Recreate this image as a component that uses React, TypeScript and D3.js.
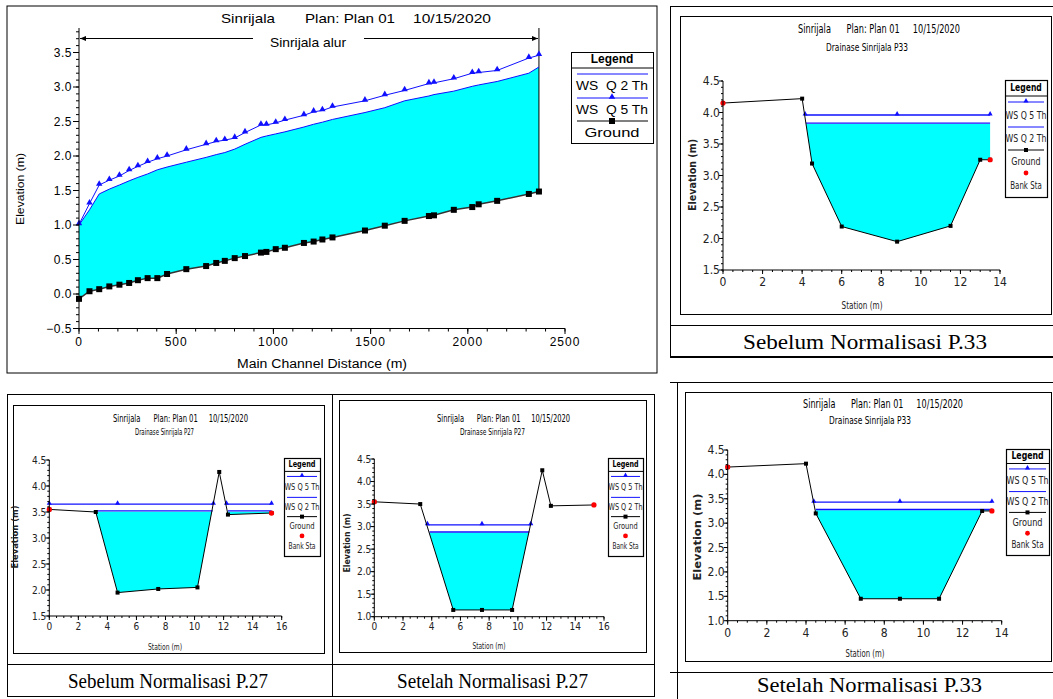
import React, { useEffect, useRef } from "react";
import * as d3 from "d3";

// long profile "Sinrijala alur"
const profileStations = [0, 54, 104, 156, 208, 258, 303, 353, 403, 453, 552, 654, 706, 750, 801, 854, 936, 964, 1012, 1059, 1157, 1207, 1252, 1304, 1471, 1573, 1675, 1800, 1826, 1928, 2023, 2056, 2151, 2314, 2366];
const profileGround = [-0.07, 0.04, 0.07, 0.11, 0.135, 0.16, 0.2, 0.23, 0.23, 0.29, 0.36, 0.405, 0.45, 0.48, 0.52, 0.55, 0.6, 0.61, 0.65, 0.67, 0.74, 0.76, 0.79, 0.82, 0.92, 0.99, 1.06, 1.13, 1.14, 1.22, 1.26, 1.3, 1.35, 1.45, 1.485];
const profileWsQ5 = [1.01, 1.31, 1.58, 1.65, 1.71, 1.79, 1.85, 1.91, 1.96, 2.0, 2.09, 2.17, 2.21, 2.23, 2.26, 2.34, 2.45, 2.45, 2.48, 2.52, 2.59, 2.64, 2.66, 2.71, 2.8, 2.88, 2.95, 3.05, 3.06, 3.12, 3.2, 3.21, 3.24, 3.42, 3.46];
const profileWsQ2 = [1.0, 1.22, 1.45, 1.52, 1.58, 1.64, 1.69, 1.74, 1.8, 1.84, 1.91, 1.98, 2.02, 2.05, 2.1, 2.17, 2.27, 2.29, 2.32, 2.35, 2.42, 2.46, 2.49, 2.53, 2.63, 2.7, 2.8, 2.87, 2.89, 2.94, 3.01, 3.03, 3.08, 3.2, 3.29];
const profileYTicks = [-0.5, 0, 0.5, 1.0, 1.5, 2.0, 2.5, 3.0, 3.5];
const profileXTicks = [0, 500, 1000, 1500, 2000, 2500];
const profileLegend = ["WS  Q 2 Th", "WS  Q 5 Th", "Ground"];

// cross sections
const sectionLegend = ["WS Q 5 Th", "WS Q 2 Th", "Ground", "Bank Sta"];

const p33BeforeStation = [0, 4.0, 4.5, 6.0, 8.8, 11.5, 13.0, 13.5];
const p33BeforeGround = [4.15, 4.22, 3.19, 2.19, 1.95, 2.2, 3.25, 3.25];
const p33BeforeBanks = [0, 7];
const p33BeforeQ5 = 3.96;
const p33BeforeQ5Marks = [[4.15, 8.8, 13.5]];
const p33BeforeQ2 = 3.83;
const p33BeforeQ2Segs = [[4.19, 13.5]];

const p27BeforeStation = [0, 3.2, 4.7, 7.5, 10.2, 11.7, 12.3, 15.3];
const p27BeforeGround = [3.55, 3.5, 1.95, 2.02, 2.05, 4.27, 3.45, 3.48];
const p27BeforeBanks = [0, 7];
const p27BeforeQ5 = 3.65;
const p27BeforeQ5Marks = [[0, 4.7, 11.3], [12.2, 15.3]];
const p27BeforeQ2 = 3.52;
const p27BeforeQ2Segs = [[3.2, 11.25], [12.3, 15.3]];

const p27AfterStation = [0, 3.2, 5.5, 7.5, 9.6, 11.7, 12.3, 15.3];
const p27AfterGround = [3.55, 3.5, 1.15, 1.15, 1.15, 4.25, 3.46, 3.48];
const p27AfterBanks = [0, 7];
const p27AfterQ5 = 3.04;
const p27AfterQ5Marks = [[3.7, 7.5, 10.9]];
const p27AfterQ2 = 2.88;
const p27AfterQ2Segs = [[3.85, 10.8]];

const p33AfterStation = [0, 4.0, 4.5, 6.8, 8.8, 10.8, 13.0, 13.5];
const p33AfterGround = [4.15, 4.22, 3.2, 1.45, 1.45, 1.45, 3.25, 3.25];
const p33AfterBanks = [0, 7];
const p33AfterQ5 = 3.43;
const p33AfterQ5Marks = [[4.4, 8.8, 13.5]];
const p33AfterQ2 = 3.28;
const p33AfterQ2Segs = [[4.5, 13.5]];

const SANS = "'Liberation Sans', Arial, sans-serif";
const NARROW = "'Liberation Sans Narrow', 'Arial Narrow', 'DejaVu Sans Condensed', sans-serif";
const SERIF = "'Liberation Serif', 'Times New Roman', serif";
const BLUE = "#1010ff";
const CYAN = "#00ffff";

const range = (a: number, b: number, step: number) => {
  const out: number[] = [];
  for (let v = a; v <= b + 1e-9; v += step) out.push(Math.round(v * 100) / 100);
  return out;
};

const drawProfile = (svg: any) => {
  const g = svg.append("g");
  const x = d3.scaleLinear().domain([0, 2500]).range([79, 565]);
  const y = d3.scaleLinear().domain([-0.5, 3.5]).range([328.5, 52.5]);
  const idx = profileStations.map((d, i) => i);

  g.append("rect").attr("x", 7).attr("y", 6).attr("width", 650).attr("height", 367)
    .attr("fill", "none").attr("stroke", "#000");

  g.append("path").datum(idx)
    .attr("d", d3.area<number>().x((i) => x(profileStations[i])).y0((i) => y(profileWsQ2[i])).y1((i) => y(profileGround[i])))
    .attr("fill", CYAN);

  const last = profileStations.length - 1;
  g.append("line").attr("x1", x(profileStations[last])).attr("x2", x(profileStations[last]))
    .attr("y1", 28).attr("y2", y(profileGround[last])).attr("stroke", "#000");

  g.append("path").datum(idx)
    .attr("d", d3.line<number>().x((i) => x(profileStations[i])).y((i) => y(profileWsQ2[i])))
    .attr("fill", "none").attr("stroke", BLUE).attr("stroke-width", 1);
  g.append("path").datum(idx)
    .attr("d", d3.line<number>().x((i) => x(profileStations[i])).y((i) => y(profileWsQ5[i])))
    .attr("fill", "none").attr("stroke", BLUE).attr("stroke-width", 1);
  g.append("path").datum(idx)
    .attr("d", d3.line<number>().x((i) => x(profileStations[i])).y((i) => y(profileGround[i])))
    .attr("fill", "none").attr("stroke", "#333").attr("stroke-width", 1.5);

  const tri = d3.symbol().type(d3.symbolTriangle).size(18);
  g.selectAll(".q5m").data(idx).enter().append("path")
    .attr("d", tri).attr("transform", (i: number) => `translate(${x(profileStations[i])},${y(profileWsQ5[i]) - 1})`)
    .attr("fill", BLUE);
  g.selectAll(".gm").data(idx).enter().append("rect")
    .attr("x", (i: number) => x(profileStations[i]) - 3).attr("y", (i: number) => y(profileGround[i]) - 3)
    .attr("width", 6).attr("height", 6).attr("fill", "#000");

  // axes
  g.append("line").attr("x1", 79).attr("x2", 79).attr("y1", 28).attr("y2", 328.5).attr("stroke", "#000");
  g.append("line").attr("x1", 79).attr("x2", 565).attr("y1", 328.5).attr("y2", 328.5).attr("stroke", "#000");
  g.selectAll(".ymin").data(range(-0.5, 3.8, 0.1)).enter().append("line")
    .attr("x1", 76).attr("x2", 79).attr("y1", (d: number) => y(d)).attr("y2", (d: number) => y(d)).attr("stroke", "#000");
  g.selectAll(".xmin").data(range(0, 2500, 100)).enter().append("line")
    .attr("x1", (d: number) => x(d)).attr("x2", (d: number) => x(d)).attr("y1", 328.5).attr("y2", 331.5).attr("stroke", "#000");
  g.selectAll(".ymaj").data(profileYTicks).enter().append("line")
    .attr("x1", 73).attr("x2", 79).attr("y1", (d: number) => y(d)).attr("y2", (d: number) => y(d)).attr("stroke", "#000");
  g.selectAll(".xmaj").data(profileXTicks).enter().append("line")
    .attr("x1", (d: number) => x(d)).attr("x2", (d: number) => x(d)).attr("y1", 328.5).attr("y2", 334).attr("stroke", "#000");
  g.selectAll(".ylab").data(profileYTicks).enter().append("text")
    .attr("x", 72).attr("y", (d: number) => y(d)).attr("dominant-baseline", "central")
    .attr("text-anchor", "end").attr("font-family", SANS).attr("font-size", 12).attr("letter-spacing", 0.5)
    .text((d: number) => d3.format(".1f")(d));
  g.selectAll(".xlab").data(profileXTicks).enter().append("text")
    .attr("x", (d: number) => x(d)).attr("y", 342).attr("dominant-baseline", "central")
    .attr("text-anchor", "middle").attr("font-family", SANS).attr("font-size", 12).attr("letter-spacing", 1)
    .text((d: number) => String(d));

  const txt = (t: string, xx: number, yy: number, size: number, w?: number) => {
    const el = g.append("text").attr("x", xx).attr("y", yy).attr("dominant-baseline", "central")
      .attr("font-family", SANS).attr("font-size", size).style("white-space", "pre").text(t);
    if (w) el.attr("textLength", w).attr("lengthAdjust", "spacingAndGlyphs");
    return el;
  };
  txt("Sinrijala", 221, 18, 13, 54);
  txt("Plan: Plan 01", 305, 18, 13, 90);
  txt("10/15/2020", 413, 18, 13, 78);
  txt("Sinrijala alur", 270, 42, 13, 76);
  txt("Main Channel Distance (m)", 237, 364, 12, 170);
  g.append("text").attr("transform", "translate(20,189) rotate(-90)").attr("text-anchor", "middle")
    .attr("dominant-baseline", "central").attr("font-family", SANS).attr("font-size", 11)
    .attr("textLength", 72).attr("lengthAdjust", "spacingAndGlyphs").text("Elevation (m)");

  // reach arrow
  g.append("line").attr("x1", 80).attr("x2", 253).attr("y1", 38.5).attr("y2", 38.5).attr("stroke", "#000");
  g.append("line").attr("x1", 364).attr("x2", 538).attr("y1", 38.5).attr("y2", 38.5).attr("stroke", "#000");
  g.append("path").attr("d", "M80,38.5 L86,36 L86,41 Z").attr("fill", "#000");
  g.append("path").attr("d", "M538,38.5 L532,36 L532,41 Z").attr("fill", "#000");

  // legend
  g.append("rect").attr("x", 571.5).attr("y", 52.5).attr("width", 82).attr("height", 91)
    .attr("fill", "#fff").attr("stroke", "#000");
  g.append("line").attr("x1", 571.5).attr("x2", 653.5).attr("y1", 68).attr("y2", 68).attr("stroke", "#000");
  g.append("text").attr("x", 612).attr("y", 59).attr("text-anchor", "middle").attr("dominant-baseline", "central")
    .attr("font-family", SANS).attr("font-size", 12).attr("font-weight", "bold").text("Legend");
  const rows = [74, 98, 121];
  const colors = [BLUE, BLUE, "#000"];
  const widths = [72, 72, 55];
  rows.forEach((ry, k) => {
    g.append("line").attr("x1", 577).attr("x2", 648).attr("y1", ry).attr("y2", ry).attr("stroke", colors[k]);
    g.append("text").attr("x", 612).attr("y", ry + 12).attr("text-anchor", "middle").attr("dominant-baseline", "central")
      .attr("font-family", SANS).attr("font-size", 12).style("white-space", "pre")
      .attr("textLength", widths[k]).attr("lengthAdjust", "spacingAndGlyphs").text(profileLegend[k]);
  });
  g.append("path").attr("d", tri).attr("transform", "translate(612,97)").attr("fill", BLUE);
  g.append("rect").attr("x", 609).attr("y", 118).attr("width", 6).attr("height", 6).attr("fill", "#000");
};

type Section = {
  id: string;
  station: number[];
  ground: number[];
  banks: number[];
  q5: number;
  q5Marks: number[][];
  q2: number;
  q2Segs: number[][];
  xDomain: number[];
  yDomain: number[];
  xRange: number[];
  yRange: number[];
  box: number[];
  legend: number[];
  title: number[];
  subtitle: number[];
  subText: string;
  yLabel: number[];
  xLabel: number[];
  font: number;
  tick: number;
  caption: string;
  captionPos: number[];
};

const sectionTitleText = "Sinrijala      Plan: Plan 01     10/15/2020";

const drawSection = (svg: any, s: Section) => {
  const g = svg.append("g");
  const x = d3.scaleLinear().domain(s.xDomain).range(s.xRange);
  const y = d3.scaleLinear().domain(s.yDomain).range(s.yRange);
  const idx = s.station.map((d, i) => i);

  g.append("rect").attr("x", s.box[0] + 0.5).attr("y", s.box[1] + 0.5)
    .attr("width", s.box[2] - s.box[0]).attr("height", s.box[3] - s.box[1])
    .attr("fill", "none").attr("stroke", "#000");

  // water: between ground and WS Q 2 level, only where the ground lies below it
  const clipId = "clip-" + s.id;
  g.append("clipPath").attr("id", clipId).append("rect")
    .attr("x", x(s.xDomain[0])).attr("y", y(s.q2) + 0.8)
    .attr("width", x(s.xDomain[1]) - x(s.xDomain[0])).attr("height", y(s.yDomain[0]) - y(s.q2));
  g.append("path").datum(idx)
    .attr("d", d3.area<number>().x((i) => x(s.station[i])).y0(y(s.q2) - 2).y1((i) => y(s.ground[i])))
    .attr("fill", CYAN).attr("clip-path", `url(#${clipId})`);

  s.q2Segs.forEach((seg) => {
    g.append("line").attr("x1", x(seg[0])).attr("x2", x(seg[seg.length - 1]))
      .attr("y1", y(s.q2)).attr("y2", y(s.q2)).attr("stroke", BLUE).attr("stroke-width", 1.3);
  });
  const tri = d3.symbol().type(d3.symbolTriangle).size(11);
  s.q5Marks.forEach((seg) => {
    g.append("line").attr("x1", x(seg[0])).attr("x2", x(seg[seg.length - 1]))
      .attr("y1", y(s.q5)).attr("y2", y(s.q5)).attr("stroke", BLUE).attr("stroke-width", 1.3);
    seg.forEach((st) => {
      g.append("path").attr("d", tri).attr("transform", `translate(${x(st)},${y(s.q5) - 1})`).attr("fill", BLUE);
    });
  });

  g.append("path").datum(idx)
    .attr("d", d3.line<number>().x((i) => x(s.station[i])).y((i) => y(s.ground[i])))
    .attr("fill", "none").attr("stroke", "#000").attr("stroke-width", 1);
  g.selectAll(".gm").data(idx).enter().append("rect")
    .attr("x", (i: number) => x(s.station[i]) - 2).attr("y", (i: number) => y(s.ground[i]) - 2)
    .attr("width", 4).attr("height", 4).attr("fill", "#000");
  g.selectAll(".bank").data(s.banks).enter().append("circle")
    .attr("cx", (i: number) => x(s.station[i])).attr("cy", (i: number) => y(s.ground[i]))
    .attr("r", 2.6).attr("fill", "#ff0000");

  // axes
  const x0 = x(s.xDomain[0]);
  const yb = y(s.yDomain[0]);
  g.append("line").attr("x1", x0).attr("x2", x0).attr("y1", y(s.yDomain[1])).attr("y2", yb).attr("stroke", "#000");
  g.append("line").attr("x1", x0).attr("x2", x(s.xDomain[1])).attr("y1", yb).attr("y2", yb).attr("stroke", "#000");
  g.selectAll(".ymin").data(range(s.yDomain[0], s.yDomain[1], 0.1)).enter().append("line")
    .attr("x1", x0 - 2).attr("x2", x0).attr("y1", (d: number) => y(d)).attr("y2", (d: number) => y(d)).attr("stroke", "#000");
  g.selectAll(".xmin").data(range(s.xDomain[0], s.xDomain[1], 0.5)).enter().append("line")
    .attr("x1", (d: number) => x(d)).attr("x2", (d: number) => x(d)).attr("y1", yb).attr("y2", yb + 2).attr("stroke", "#000");
  const yt = range(s.yDomain[0], s.yDomain[1], 0.5);
  const xt = range(s.xDomain[0], s.xDomain[1], 2);
  g.selectAll(".ymaj").data(yt).enter().append("line")
    .attr("x1", x0 - 4).attr("x2", x0).attr("y1", (d: number) => y(d)).attr("y2", (d: number) => y(d)).attr("stroke", "#000");
  g.selectAll(".xmaj").data(xt).enter().append("line")
    .attr("x1", (d: number) => x(d)).attr("x2", (d: number) => x(d)).attr("y1", yb).attr("y2", yb + 4).attr("stroke", "#000");
  g.selectAll(".ylab").data(yt).enter().append("text")
    .attr("x", x0 - 3).attr("y", (d: number) => y(d)).attr("text-anchor", "end").attr("dominant-baseline", "central")
    .attr("font-family", NARROW).attr("font-size", s.tick).attr("fill", "#222").text((d: number) => d3.format(".1f")(d));
  g.selectAll(".xlab").data(xt).enter().append("text")
    .attr("x", (d: number) => x(d)).attr("y", yb + s.tick).attr("text-anchor", "middle").attr("dominant-baseline", "central")
    .attr("font-family", NARROW).attr("font-size", s.tick).attr("fill", "#222").text((d: number) => String(d));

  const fit = (el: any, w: number) => el.attr("textLength", w).attr("lengthAdjust", "spacingAndGlyphs");
  fit(g.append("text").attr("x", s.title[0]).attr("y", s.title[1]).attr("dominant-baseline", "central")
    .attr("font-family", NARROW).attr("font-size", s.tick + 1).style("white-space", "pre")
    .text(sectionTitleText), s.title[2]);
  fit(g.append("text").attr("x", s.subtitle[0]).attr("y", s.subtitle[1]).attr("dominant-baseline", "central")
    .attr("font-family", NARROW).attr("font-size", s.font).text(s.subText), s.subtitle[2]);
  fit(g.append("text").attr("transform", `translate(${s.yLabel[0]},${s.yLabel[1]}) rotate(-90)`)
    .attr("text-anchor", "middle").attr("dominant-baseline", "central").attr("font-weight", "bold")
    .attr("font-family", NARROW).attr("font-size", s.font).attr("fill", "#222").text("Elevation (m)"), s.yLabel[2]);
  fit(g.append("text").attr("x", s.xLabel[0]).attr("y", s.xLabel[1]).attr("text-anchor", "middle").attr("dominant-baseline", "central")
    .attr("font-family", NARROW).attr("font-size", s.font).attr("fill", "#222").text("Station (m)"), s.xLabel[2]);

  // legend
  const [lx1, ly1, lx2, ly2] = s.legend;
  const H = ly2 - ly1;
  const fy = (v: number) => ly1 + (v * H) / 117;
  const cx = (lx1 + lx2) / 2;
  g.append("rect").attr("x", lx1 + 0.5).attr("y", ly1 + 0.5).attr("width", lx2 - lx1).attr("height", H)
    .attr("fill", "#fff").attr("stroke", "#000").attr("stroke-width", 1.2);
  g.append("line").attr("x1", lx1).attr("x2", lx2).attr("y1", fy(16)).attr("y2", fy(16)).attr("stroke", "#000");
  fit(g.append("text").attr("x", cx).attr("y", fy(7.5)).attr("text-anchor", "middle").attr("dominant-baseline", "central")
    .attr("font-family", NARROW).attr("font-weight", "bold").attr("font-size", s.font).text("Legend"), (lx2 - lx1) * 0.75);
  const lineYs = [22, 47, 70];
  const lineColors = [BLUE, BLUE, "#000"];
  lineYs.forEach((ly, k) => {
    g.append("line").attr("x1", lx1 + 3).attr("x2", lx2 - 3).attr("y1", fy(ly)).attr("y2", fy(ly)).attr("stroke", lineColors[k]);
  });
  g.append("path").attr("d", tri).attr("transform", `translate(${cx},${fy(22) - 1})`).attr("fill", BLUE);
  g.append("rect").attr("x", cx - 2).attr("y", fy(70) - 2).attr("width", 4).attr("height", 4).attr("fill", "#000");
  g.append("circle").attr("cx", cx).attr("cy", fy(93)).attr("r", 2.4).attr("fill", "#ff0000");
  const textYs = [35, 58, 81, 105];
  const textW = [lx2 - lx1 - 1, lx2 - lx1 - 1, (lx2 - lx1) * 0.7, (lx2 - lx1) * 0.75];
  textYs.forEach((ty, k) => {
    fit(g.append("text").attr("x", cx).attr("y", fy(ty)).attr("text-anchor", "middle").attr("dominant-baseline", "central")
      .attr("font-family", NARROW).attr("font-size", s.font).attr("fill", "#222").text(sectionLegend[k]), textW[k]);
  });

  // caption
  fit(g.append("text").attr("x", s.captionPos[0]).attr("y", s.captionPos[1]).attr("dominant-baseline", "central")
    .attr("font-family", SERIF).attr("font-size", 22).text(s.caption), s.captionPos[2]);
};

const sections: Section[] = [
  {
    id: "p33b", station: p33BeforeStation, ground: p33BeforeGround, banks: p33BeforeBanks,
    q5: p33BeforeQ5, q5Marks: p33BeforeQ5Marks, q2: p33BeforeQ2, q2Segs: p33BeforeQ2Segs,
    xDomain: [0, 14], yDomain: [1.5, 4.5], xRange: [723, 1000], yRange: [270, 81],
    box: [680, 16, 1051, 314], legend: [1005, 80, 1047, 197],
    title: [798, 28, 162], subtitle: [826, 47, 82], subText: "Drainase Sinrijala P33",
    yLabel: [692, 175, 72], xLabel: [862, 305, 41], font: 10, tick: 12,
    caption: "Sebelum Normalisasi P.33", captionPos: [743, 341, 244],
  },
  {
    id: "p27b", station: p27BeforeStation, ground: p27BeforeGround, banks: p27BeforeBanks,
    q5: p27BeforeQ5, q5Marks: p27BeforeQ5Marks, q2: p27BeforeQ2, q2Segs: p27BeforeQ2Segs,
    xDomain: [0, 16], yDomain: [1.5, 4.5], xRange: [49.3, 281.7], yRange: [616, 460],
    box: [13, 405, 324, 653], legend: [284, 458, 320, 556],
    title: [113, 418, 135], subtitle: [135, 432, 59], subText: "Drainase Sinrijala P27",
    yLabel: [15, 537, 63], xLabel: [165, 647, 34], font: 9, tick: 10,
    caption: "Sebelum Normalisasi P.27", captionPos: [68, 680, 200],
  },
  {
    id: "p27a", station: p27AfterStation, ground: p27AfterGround, banks: p27AfterBanks,
    q5: p27AfterQ5, q5Marks: p27AfterQ5Marks, q2: p27AfterQ2, q2Segs: p27AfterQ2Segs,
    xDomain: [0, 16], yDomain: [1.0, 4.5], xRange: [374.3, 604], yRange: [616.7, 459],
    box: [339, 400, 646, 652], legend: [608, 458, 643, 556],
    title: [437, 418, 133], subtitle: [460, 432, 65], subText: "Drainase Sinrijala P27",
    yLabel: [347, 543, 59], xLabel: [489, 646, 33], font: 9, tick: 10,
    caption: "Setelah Normalisasi P.27", captionPos: [397, 680, 191],
  },
  {
    id: "p33a", station: p33AfterStation, ground: p33AfterGround, banks: p33AfterBanks,
    q5: p33AfterQ5, q5Marks: p33AfterQ5Marks, q2: p33AfterQ2, q2Segs: p33AfterQ2Segs,
    xDomain: [0, 14], yDomain: [1.0, 4.5], xRange: [727.7, 1001.7], yRange: [620.7, 450],
    box: [685, 392, 1051, 661], legend: [1006, 449, 1049, 555],
    title: [803, 403, 160], subtitle: [829, 420, 82], subText: "Drainase Sinrijala P33",
    yLabel: [697, 537, 87], xLabel: [865, 653, 39], font: 10, tick: 12,
    caption: "Setelah Normalisasi P.33", captionPos: [757, 684, 225],
  },
];

const App = () => {
  const ref = useRef<SVGSVGElement>(null);

  useEffect(() => {
    draw();
  });

  const draw = () => {
    const svg = d3.select(ref.current);
    svg.selectAll("*").remove();
    svg.append("rect").attr("width", 1053).attr("height", 699).attr("fill", "#fff");

    // page frames (table cells around the figures)
    const frames = svg.append("g").attr("stroke", "#000").attr("fill", "none");
    const seg = (a: number, b: number, c: number, d: number, w = 1) =>
      frames.append("line").attr("x1", a).attr("y1", b).attr("x2", c).attr("y2", d).attr("stroke-width", w);
    seg(670.5, 6, 670.5, 357);
    seg(670, 6.5, 1053, 6.5);
    seg(670, 325.5, 1053, 325.5);
    seg(670, 357, 1053, 357, 2);
    frames.append("rect").attr("x", 7.5).attr("y", 394.5).attr("width", 647).attr("height", 302);
    seg(332.5, 394, 332.5, 697);
    seg(7, 664.5, 654, 664.5);
    seg(670, 382.5, 1053, 382.5);
    seg(677.5, 382, 677.5, 699);
    seg(670, 672.5, 1053, 672.5);

    drawProfile(svg);
    sections.forEach((s) => drawSection(svg, s));
  };

  return (
    <svg
      ref={ref}
      width={1053}
      height={699}
      style={{ position: "absolute", left: 0, top: 0 }}
    ></svg>
  );
};

export default App;
